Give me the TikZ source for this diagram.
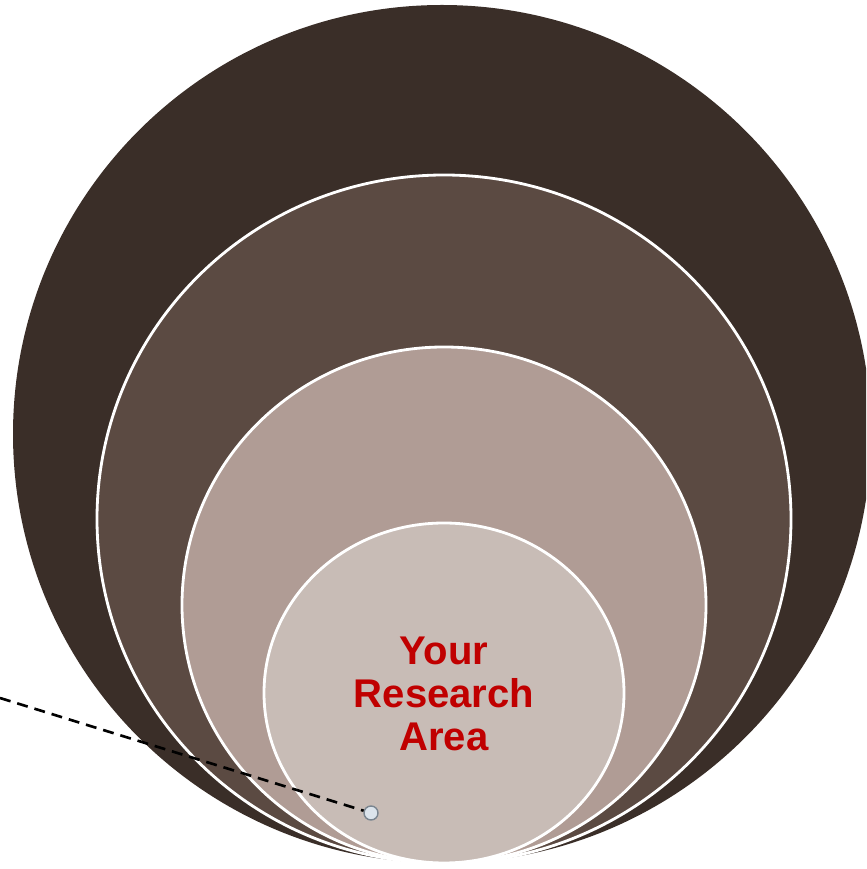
\documentclass[tikz,border=0pt]{standalone}
\usepackage{fontspec}
\setmainfont{Liberation Sans}
\usetikzlibrary{positioning}

\definecolor{outerbrown}{HTML}{3A2E28}
\definecolor{midbrown}{HTML}{5B4A42}
\definecolor{lightbrown}{HTML}{B09C95}
\definecolor{palebrown}{HTML}{C8BCB6}
\definecolor{areared}{HTML}{C00000}
\definecolor{dotfill}{HTML}{DCE4EC}
\definecolor{dotdraw}{HTML}{7A8590}

\begin{document}
\begin{tikzpicture}[x=0.02cm,y=0.02cm,
    ring/.style={draw=white,line width=1.6pt},
    pointer/.style={dashed,dash pattern=on 0.22cm off 0.14cm,line width=1.5pt}]
  \useasboundingbox (0,0) rectangle (866,869);
  \clip (0,0) rectangle (866,869);
  % nested areas, all touching at the bottom
  \fill[outerbrown] (442,435) circle [radius=429];
  \draw[ring,fill=midbrown] (444,350) ellipse [x radius=347,y radius=344];
  \draw[ring,fill=lightbrown] (444,264) ellipse [x radius=262,y radius=258];
  \draw[ring,fill=palebrown] (444,176) ellipse [x radius=180,y radius=170];
  \node[text=areared,align=center,font=\fontsize{22.8}{24.5}\selectfont\bfseries] (area) at (444,175) {Your\\Research\\Area};
  % pointer from the left edge
  \node[circle,draw=dotdraw,fill=dotfill,line width=0.8pt,inner sep=0pt,minimum size=0.28cm] (dot) at (371,56) {};
  \coordinate (start) at (0,171);
  \draw[pointer] (start) -- (dot);
\end{tikzpicture}
\end{document}
